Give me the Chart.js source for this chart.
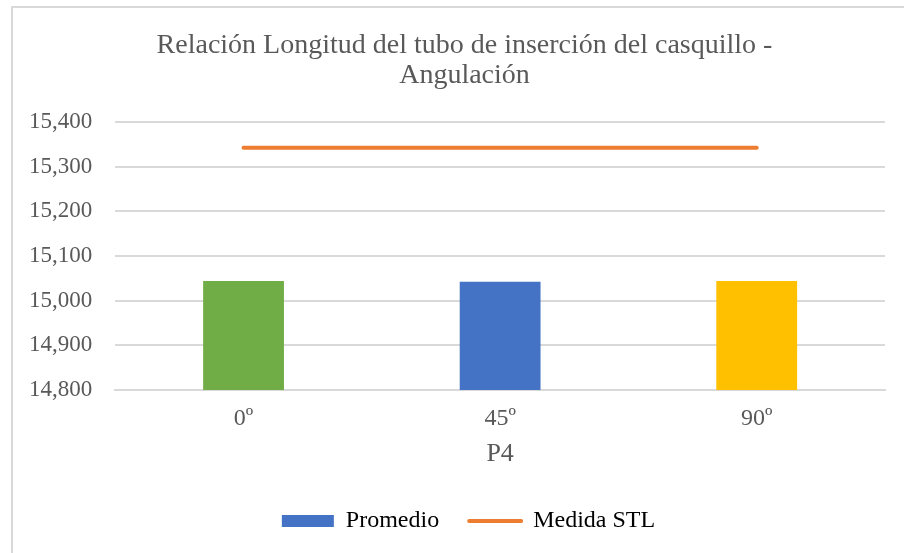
<!DOCTYPE html>
<html>
<head>
<meta charset="utf-8">
<title>Relación Longitud del tubo de inserción del casquillo - Angulación</title>
<script src="https://cdn.jsdelivr.net/npm/chart.js@4/dist/chart.umd.min.js"></script>
<style>
    html, body { margin: 0; padding: 0; background: #fff; overflow: hidden; }
    #wrap { position: relative; width: 904px; height: 553px; }
    #frame {
        position: absolute; left: 11px; top: 6px; width: 1000px; height: 1000px;
        border-left: 2px solid #d9d9d9; border-top: 2px solid #d9d9d9;
        pointer-events: none;
    }
    canvas { position: absolute; left: 0; top: 0; }
</style>
</head>
<body>
<div id="wrap">
    <canvas id="chart" width="904" height="553"></canvas>
    <div id="frame"></div>
</div>
<script>
// Categories and values
const categories = ['0º', '45º', '90º'];
const promedio = [15044, 15042, 15044];
const medidaSTL = [15342, 15342, 15342];

// Y axis ticks
const yMin = 14800;
const yMax = 15400;
const yStep = 100;

const barColors = ['#70AD47', '#4472C4', '#FFC000'];
const lineColor = '#ED7D31';
const textColor = '#595959';
const gridColor = '#d9d9d9';
const serifFamily = "'Liberation Serif', 'Times New Roman', serif";

Chart.defaults.font.family = serifFamily;
Chart.defaults.font.weight = 'normal';

// move the title and the legend row a little right of the canvas centre
const blockShift = {
    id: 'blockShift',
    afterLayout(chart) {
        chart.titleBlock.left += 19;
        chart.titleBlock.right += 19;
        chart.legend.left += 23;
        chart.legend.right += 23;
    }
};

const chart = new Chart(document.getElementById('chart'), {
    data: {
        labels: categories,
        datasets: [
            {
                type: 'bar',
                label: 'Promedio',
                data: promedio,
                backgroundColor: barColors,
                categoryPercentage: 1,
                barPercentage: 0.315,
                order: 2
            },
            {
                type: 'line',
                label: 'Medida STL',
                data: medidaSTL,
                borderColor: lineColor,
                borderWidth: 4,
                borderCapStyle: 'round',
                pointRadius: 0,
                fill: false,
                order: 1
            }
        ]
    },
    plugins: [blockShift],
    options: {
        responsive: false,
        animation: false,
        layout: {
            padding: { left: 6, right: 19, top: 31, bottom: 10 }
        },
        plugins: {
            title: {
                display: true,
                text: ['Relación Longitud del tubo de inserción del casquillo -', 'Angulación'],
                color: textColor,
                font: { size: 28, weight: 'normal', lineHeight: 1.07 },
                padding: { top: 0, bottom: 31 }
            },
            legend: {
                position: 'bottom',
                labels: {
                    usePointStyle: true,
                    pointStyleWidth: 52,
                    boxHeight: 12,
                    padding: 30,
                    color: textColor,
                    font: { size: 24 },
                    generateLabels: function () {
                        return [
                            {
                                text: 'Promedio',
                                fillStyle: '#4472C4',
                                strokeStyle: '#4472C4',
                                lineWidth: 0,
                                pointStyle: 'rect',
                                datasetIndex: 0
                            },
                            {
                                text: 'Medida STL',
                                fillStyle: lineColor,
                                strokeStyle: lineColor,
                                lineWidth: 4,
                                lineCap: 'round',
                                pointStyle: 'line',
                                datasetIndex: 1
                            }
                        ];
                    }
                }
            },
            tooltip: { enabled: false }
        },
        scales: {
            x: {
                grid: { display: false, drawTicks: false },
                border: { display: true, color: gridColor, width: 2 },
                ticks: {
                    color: textColor,
                    padding: 14,
                    font: { size: 24 }
                },
                title: {
                    display: true,
                    text: 'P4',
                    color: textColor,
                    font: { size: 26 },
                    padding: { top: -8, bottom: 9 }
                }
            },
            y: {
                min: yMin,
                max: yMax,
                grid: { color: gridColor, lineWidth: 2, drawTicks: false },
                border: { display: false },
                ticks: {
                    stepSize: yStep,
                    color: textColor,
                    padding: 23,
                    font: { size: 23 },
                    callback: function (value) {
                        return value.toLocaleString('en-US');
                    }
                }
            }
        }
    }
});
</script>
</body>
</html>
